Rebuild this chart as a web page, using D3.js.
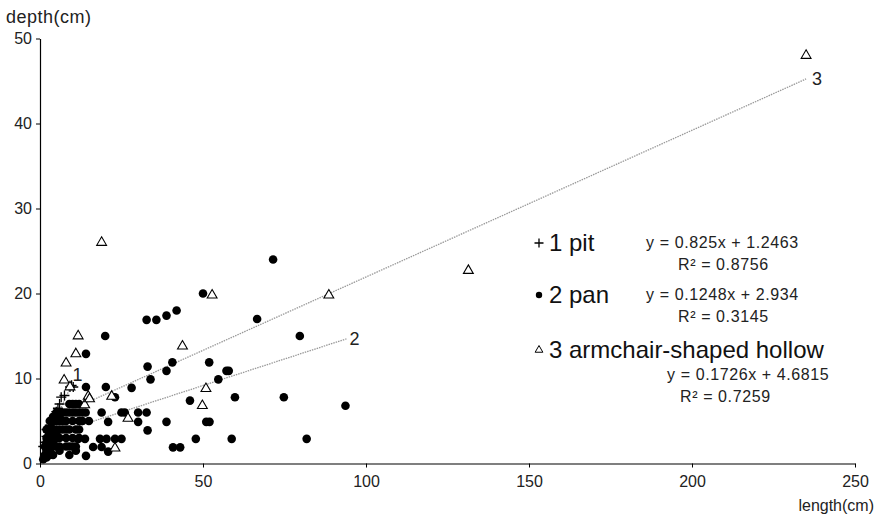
<!DOCTYPE html>
<html>
<head>
<meta charset="utf-8">
<script src="https://cdn.jsdelivr.net/npm/d3@7"></script>
<style>
  html, body { margin: 0; padding: 0; background: #fff; }
  svg { display: block; font-family: "Liberation Sans", Arial, sans-serif; }
</style>
</head>
<body>
<svg id="chart" width="877" height="518"></svg>
<script>
// ---- data ----
const xTicks = [0, 50, 100, 150, 200, 250];
const yTicks = [0, 10, 20, 30, 40, 50];

// series 1: pit (+)
const pitPoints = [
  [1, 2], [1.5, 2.5], [2, 3.2], [2.5, 3.7], [3, 4.5], [3.5, 4], [2, 4], [3, 3.5],
  [4, 5.1], [4.5, 5.5], [5, 6.1], [5.5, 6.5], [6, 7], [6.5, 7.8], [7.5, 8],
  [9.2, 9], [9.7, 9.2], [10.2, 9]
];

// series 2: pan (filled circles)
const panPoints = [
  [71.5, 24], [50, 20], [20, 15], [32.7, 16.9], [35.7, 16.9], [38.8, 17.4], [41.9, 18],
  [66.6, 17], [79.7, 15], [14.1, 12.9], [51.9, 11.9], [33, 11.4], [40.6, 11.9],
  [38.8, 10.9], [57.2, 10.9], [57.9, 10.9], [33.9, 9.9], [54.7, 9.9], [14.1, 9],
  [20.2, 9], [28.1, 8.9], [23, 7.8], [46, 7.4], [59.8, 7.8], [74.8, 7.8], [93.7, 6.8],
  [18.9, 6], [25, 6], [26, 6], [30.1, 6], [32.7, 6], [20.9, 4.9], [30.1, 4.9],
  [38.8, 4.9], [51, 4.9], [52, 4.9], [33, 3.9], [47.8, 2.9], [58.8, 2.9], [81.8, 2.9],
  [18.4, 2.9], [20.4, 2.9], [23, 2.9], [25, 2.9], [11.7, 2.9], [13.8, 2.9],
  [16.3, 1.95], [18.9, 1.95], [20.9, 1.4], [40.8, 1.9], [43, 1.9], [14.1, 0.9],
  // dense cluster near the origin
  [9, 7], [10, 7], [11, 7], [12, 7],
  [5, 6], [6, 6], [7, 6], [8, 6], [9, 6], [10, 6], [11, 6], [12, 6], [13, 6], [14, 6],
  [4, 5.5], [6, 5.5],
  [3, 5], [4, 5], [5, 5], [6, 5], [7, 5], [8, 5], [10, 5], [12, 5], [13, 5], [15, 5],
  [2, 4], [3, 4], [4, 4], [5, 4], [6, 4], [7, 4], [8, 4], [9, 4], [11, 4], [12, 4],
  [3, 3.5], [5, 3.5],
  [2, 3], [3, 3], [4, 3], [5, 3], [6, 3], [8, 3], [10, 3], [12, 3],
  [2, 2.5], [4, 2.5],
  [1.5, 2], [2.5, 2], [3, 2], [4, 2], [5, 2], [6, 2], [8, 2], [9, 2], [10, 2], [11, 2],
  [2, 1.5], [3, 1.5], [6, 1.5], [11, 1.5],
  [1.5, 1], [3, 1], [4, 1], [9, 1],
  [1, 0.5], [2, 0.7]
];

// series 3: armchair-shaped hollow (open triangles)
const hollowPoints = [
  [235, 48], [131.4, 22.7], [88.6, 19.8], [52.8, 19.8], [18.9, 26], [43.7, 13.8],
  [50.9, 8.8], [49.8, 6.8], [11.7, 15], [11, 12.9], [8, 11.8], [7.4, 9.8], [9.2, 9],
  [14.8, 7.9], [22, 7.9], [27, 5.3], [23, 1.8], [13.7, 6.9], [15.2, 7.6]
];

// regression lines
const trendSlopes = [0.825, 0.1248, 0.1726];
const trendIntercepts = [1.2463, 2.934, 4.6815];
const trendRanges = [[1, 9.7], [1, 94], [7.4, 235]];
const trendLabels = ["1", "2", "3"];

const legendLabels = ["1 pit", "2 pan", "3 armchair-shaped hollow"];
const equations = ["y = 0.825x + 1.2463", "y = 0.1248x + 2.934", "y = 0.1726x + 4.6815"];
const rSquared = ["R\u00B2 = 0.8756", "R\u00B2 = 0.3145", "R\u00B2 = 0.7259"];

// ---- drawing ----
const svg = d3.select("#chart");
const x = d3.scaleLinear().domain([0, 250]).range([40, 855]);
const y = d3.scaleLinear().domain([0, 50]).range([463.5, 38.5]);

// trend lines
const trendG = svg.append("g");
trendSlopes.forEach((m, i) => {
  const b = trendIntercepts[i];
  const [x0, x1] = trendRanges[i];
  trendG.append("line")
    .attr("x1", x(x0)).attr("y1", y(m * x0 + b))
    .attr("x2", x(x1)).attr("y2", y(m * x1 + b))
    .attr("stroke", "#999").attr("stroke-width", 1.3)
    .attr("stroke-dasharray", "1.5,1");
});

// trend labels
const labelOffsets = [[1, -4], [3, 6], [6, 6]];
trendSlopes.forEach((m, i) => {
  const xe = trendRanges[i][1];
  svg.append("text")
    .attr("x", x(xe) + labelOffsets[i][0])
    .attr("y", y(m * xe + trendIntercepts[i]) + labelOffsets[i][1])
    .attr("font-size", 18).attr("fill", "#222")
    .text(trendLabels[i]);
});

// pan circles
svg.append("g").selectAll("circle").data(panPoints).join("circle")
  .attr("cx", d => x(d[0])).attr("cy", d => y(d[1])).attr("r", 4.3)
  .attr("fill", "#000");

// pit crosses
svg.append("g").selectAll("path").data(pitPoints).join("path")
  .attr("transform", d => `translate(${x(d[0])},${y(d[1])})`)
  .attr("d", "M-5,0H5M0,-5V5")
  .attr("stroke", "#000").attr("stroke-width", 1.3).attr("fill", "none");

// hollow triangles
const tri = d3.symbol().type(d3.symbolTriangle).size(42);
svg.append("g").selectAll("path").data(hollowPoints).join("path")
  .attr("transform", d => `translate(${x(d[0])},${y(d[1])})`)
  .attr("d", tri)
  .attr("fill", "#fff").attr("stroke", "#000").attr("stroke-width", 1.1);

// axes
const xAxis = d3.axisBottom(x).tickValues(xTicks).tickSize(4).tickSizeOuter(0).tickPadding(8);
const yAxis = d3.axisLeft(y).tickValues(yTicks).tickSize(4).tickSizeOuter(0).tickPadding(4);

const gx = svg.append("g").attr("transform", `translate(0,${y(0)})`).call(xAxis);
const gy = svg.append("g").attr("transform", `translate(${x(0)},0)`).call(yAxis);
[gx, gy].forEach(g => {
  g.selectAll("text").attr("font-size", 16).attr("fill", "#222")
    .attr("font-family", "Liberation Sans, Arial, sans-serif");
  g.select(".domain").attr("stroke", "#000").attr("stroke-width", 1.2);
  g.selectAll(".tick line").attr("stroke", "#000");
});
gx.selectAll("text").attr("dy", "0.71em");

// axis titles
svg.append("text").attr("x", 6).attr("y", 23).attr("font-size", 18)
  .attr("letter-spacing", 0.5).attr("fill", "#222").text("depth(cm)");
svg.append("text").attr("x", 874).attr("y", 511).attr("text-anchor", "end")
  .attr("font-size", 16).attr("fill", "#222").text("length(cm)");

// legend
const legendRowY = [243, 295, 350];
const legend = svg.append("g");
legend.append("path").attr("transform", `translate(539,${legendRowY[0]})`)
  .attr("d", "M-4.5,0H4.5M0,-4.5V4.5").attr("stroke", "#000").attr("stroke-width", 1.3);
legend.append("circle").attr("cx", 539).attr("cy", legendRowY[1]).attr("r", 3.2).attr("fill", "#000");
legend.append("path").attr("transform", `translate(539,${legendRowY[2]})`)
  .attr("d", d3.symbol().type(d3.symbolTriangle).size(26))
  .attr("fill", "#fff").attr("stroke", "#000").attr("stroke-width", 1);

legendLabels.forEach((t, i) => {
  legend.append("text").attr("x", 549).attr("y", legendRowY[i] + 8)
    .attr("font-size", 24).attr("fill", "#111").text(t);
});

const eqPos = [[646, 248], [646, 300], [667, 380]];
const r2Pos = [[678, 270], [678, 322], [680, 402]];
equations.forEach((t, i) => {
  legend.append("text").attr("x", eqPos[i][0]).attr("y", eqPos[i][1])
    .attr("font-size", 16).attr("letter-spacing", 0.6).attr("fill", "#222").text(t);
  legend.append("text").attr("x", r2Pos[i][0]).attr("y", r2Pos[i][1])
    .attr("font-size", 16).attr("letter-spacing", 0.6).attr("fill", "#222").text(rSquared[i]);
});
</script>
</body>
</html>
